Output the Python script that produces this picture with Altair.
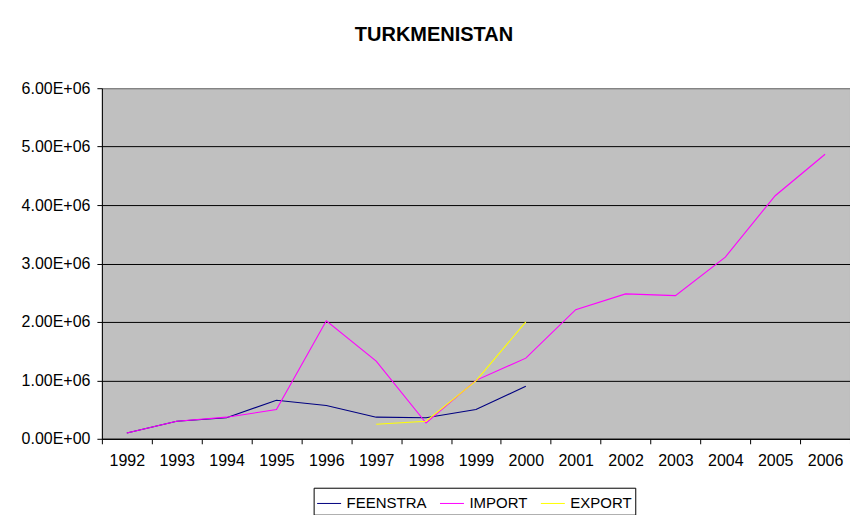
import altair as alt
import pandas as pd

years = [str(y) for y in range(1992, 2007)]

series_names = ["FEENSTRA", "IMPORT", "EXPORT"]
series_colors = ["#000080", "#FF00FF", "#FFFF00"]

feenstra_years = ["1992", "1993", "1994", "1995", "1996", "1997", "1998", "1999", "2000"]
feenstra = [0.10e6, 0.30e6, 0.36e6, 0.66e6, 0.57e6, 0.37e6, 0.36e6, 0.50e6, 0.90e6]

import_years = years
imports = [0.10e6, 0.30e6, 0.37e6, 0.50e6, 2.02e6, 1.33e6, 0.27e6, 1.00e6,
           1.38e6, 2.21e6, 2.48e6, 2.45e6, 3.11e6, 4.16e6, 4.87e6]

export_years = ["1997", "1998", "1999", "2000"]
exports = [0.25e6, 0.30e6, 0.99e6, 2.00e6]

y_ticks = [0, 1e6, 2e6, 3e6, 4e6, 5e6, 6e6]

rows = []
for name, ys, vs in [("FEENSTRA", feenstra_years, feenstra),
                     ("IMPORT", import_years, imports),
                     ("EXPORT", export_years, exports)]:
    for y, v in zip(ys, vs):
        rows.append({"series": name, "year": y, "value": v})
df = pd.DataFrame(rows)

FONT = "Liberation Sans"

chart = alt.Chart(df).mark_line(strokeWidth=1.1).encode(
    x=alt.X(
        "year:N",
        sort=years,
        scale=alt.Scale(type="band", domain=years, paddingInner=0, paddingOuter=0),
        axis=alt.Axis(
            title=None, labelAngle=0, tickBand="extent", grid=False,
            tickSize=5, tickColor="black", domainColor="black",
            labelFont=FONT, labelFontSize=16, labelColor="black", labelPadding=9,
        ),
    ),
    y=alt.Y(
        "value:Q",
        scale=alt.Scale(domain=[0, 6e6], nice=False, zero=True),
        axis=alt.Axis(
            title=None, values=y_ticks,
            labelExpr="datum.value == 0 ? '0.00E+00' : format(datum.value / 1000000, '.2f') + 'E+06'",
            grid=True,
            gridColor={"condition": {"test": "datum.value >= 6000000", "value": "#808080"}, "value": "black"},
            gridWidth=1,
            tickSize=5, tickColor="black", domainColor="black",
            labelFont=FONT, labelFontSize=16, labelColor="black", labelPadding=7,
        ),
    ),
    color=alt.Color(
        "series:N",
        sort=series_names,
        scale=alt.Scale(domain=series_names, range=series_colors),
        legend=alt.Legend(
            title=None, orient="none", legendX=212, legendY=400,
            direction="horizontal", symbolType="stroke", symbolSize=576,
            symbolStrokeWidth=1, labelFont=FONT, labelFontSize=15,
            labelColor="black", labelOffset=5, columnPadding=10,
            strokeColor="black", fillColor="white", padding=3,
        ),
    ),
    order=alt.Order("series_order:Q"),
).transform_calculate(
    series_order="indexof(['FEENSTRA','IMPORT','EXPORT'], datum.series)"
).properties(
    width=749,
    height=351,
    autosize=alt.AutoSizeParams(type="none"),
    padding={"left": 94, "top": 80, "right": 0, "bottom": 76},
    title=alt.Title(
        "TURKMENISTAN", font=FONT, fontSize=20, fontWeight="bold", color="black",
        anchor="middle", dx=-42, offset=19, baseline="alphabetic",
    ),
    background="white",
).configure_view(fill="#C0C0C0", stroke="#808080", strokeWidth=1)

chart.save("out.html", embed_options={"renderer": "svg", "actions": False})
